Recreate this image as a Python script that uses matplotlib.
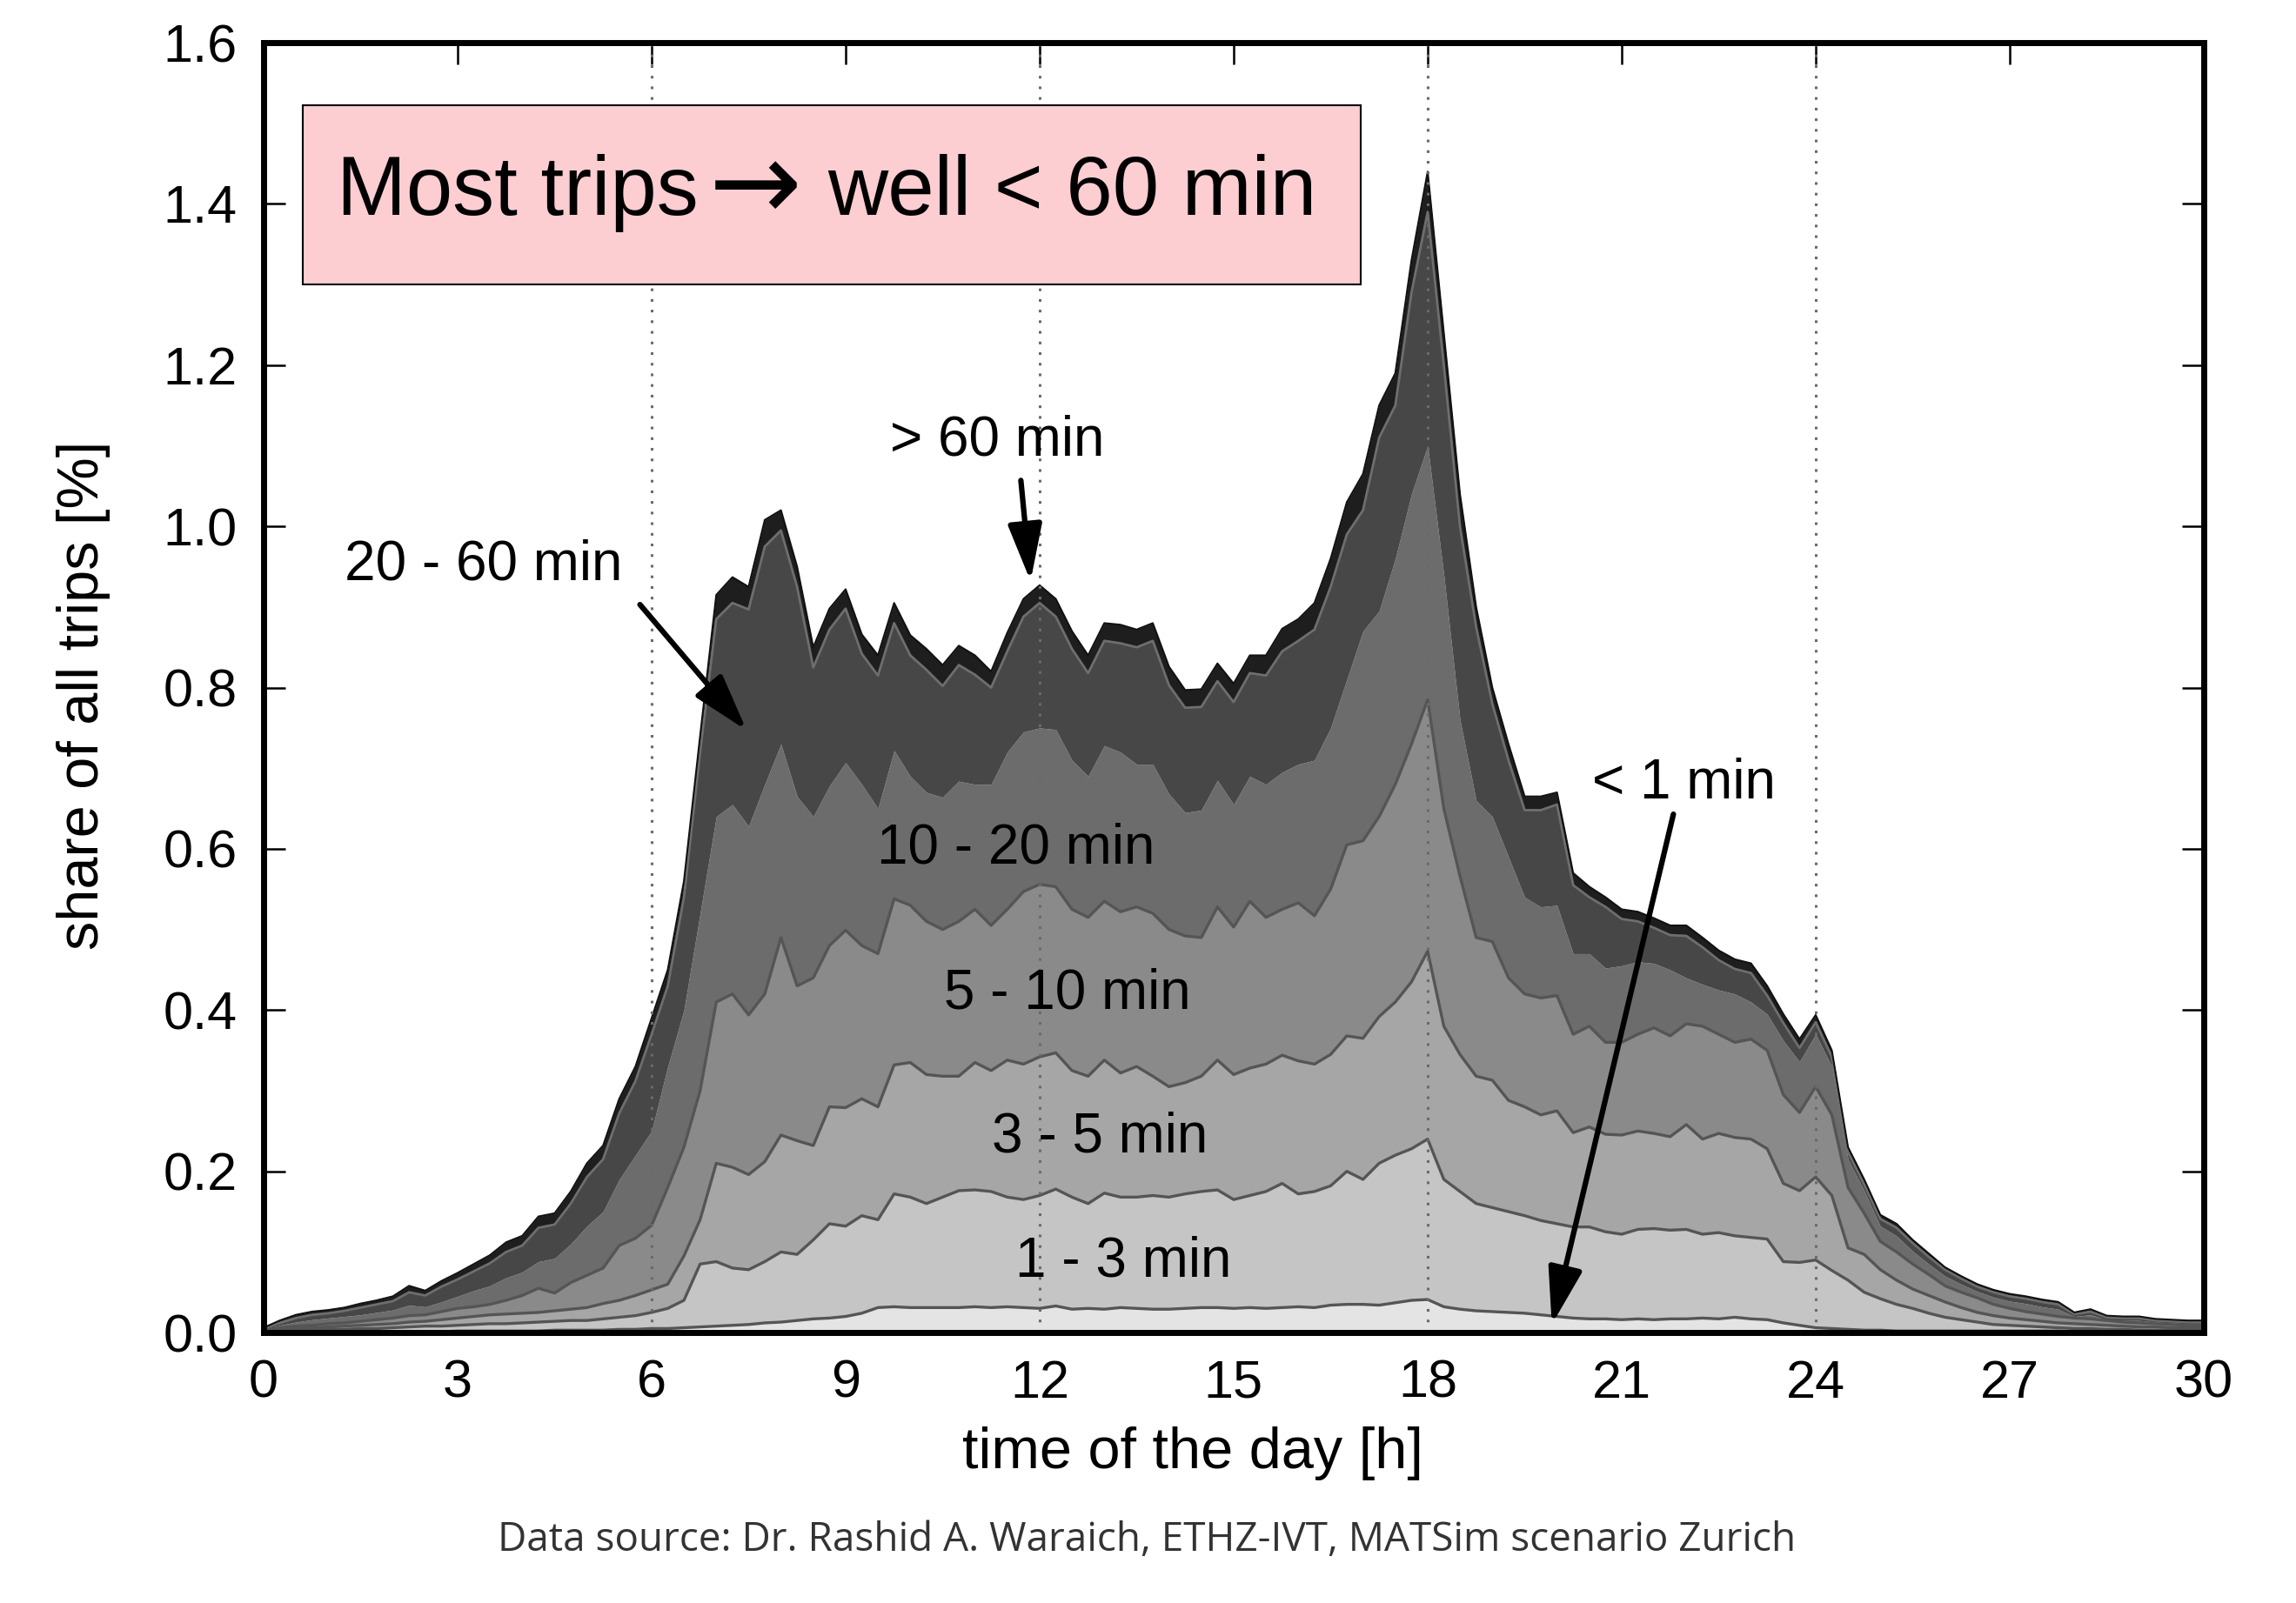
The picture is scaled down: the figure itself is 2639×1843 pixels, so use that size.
import numpy as np
from matplotlib import pyplot as plt
from matplotlib.patches import Rectangle

# time of day in hours, 15 min steps
hours = np.arange(0, 30.01, 0.25)

# cumulative share of all trips [%] at the upper edge of each duration class
top_lt1 = [0.000, 0.001, 0.001, 0.001, 0.001, 0.001, 0.001, 0.001, 0.001, 0.001, 0.001, 0.001,
           0.002, 0.002, 0.002, 0.002, 0.002, 0.002, 0.003, 0.003, 0.003, 0.003, 0.004, 0.004,
           0.005, 0.005, 0.006, 0.007, 0.008, 0.009, 0.010, 0.012, 0.013, 0.015, 0.017, 0.018,
           0.020, 0.024, 0.031, 0.032, 0.031, 0.031, 0.031, 0.031, 0.032, 0.031, 0.032, 0.031,
           0.030, 0.033, 0.029, 0.030, 0.029, 0.031, 0.030, 0.029, 0.029, 0.030, 0.031, 0.031,
           0.030, 0.031, 0.030, 0.031, 0.032, 0.031, 0.034, 0.035, 0.035, 0.034, 0.037, 0.040,
           0.041, 0.032, 0.029, 0.027, 0.026, 0.025, 0.024, 0.022, 0.020, 0.018, 0.017, 0.017,
           0.016, 0.017, 0.016, 0.017, 0.017, 0.018, 0.017, 0.019, 0.017, 0.016, 0.012, 0.009,
           0.006, 0.005, 0.004, 0.003, 0.003, 0.002, 0.002, 0.002, 0.002, 0.002, 0.002, 0.002,
           0.002, 0.002, 0.002, 0.002, 0.001, 0.001, 0.001, 0.001, 0.001, 0.001, 0.001, 0.001,
           0.001]
top_1_3 = [0.001, 0.002, 0.003, 0.003, 0.004, 0.004, 0.005, 0.005, 0.006, 0.007, 0.008, 0.008,
           0.009, 0.010, 0.011, 0.011, 0.012, 0.013, 0.014, 0.015, 0.015, 0.017, 0.019, 0.021,
           0.025, 0.030, 0.040, 0.085, 0.088, 0.080, 0.078, 0.088, 0.100, 0.097, 0.115, 0.135,
           0.132, 0.145, 0.140, 0.172, 0.168, 0.160, 0.168, 0.176, 0.177, 0.175, 0.168, 0.165,
           0.170, 0.178, 0.168, 0.160, 0.173, 0.168, 0.168, 0.170, 0.168, 0.172, 0.175, 0.177,
           0.165, 0.170, 0.175, 0.185, 0.172, 0.175, 0.182, 0.200, 0.190, 0.210, 0.220, 0.228,
           0.240, 0.190, 0.175, 0.160, 0.155, 0.150, 0.145, 0.139, 0.135, 0.131, 0.131, 0.125,
           0.122, 0.128, 0.129, 0.127, 0.128, 0.122, 0.124, 0.120, 0.118, 0.116, 0.088, 0.087,
           0.090, 0.077, 0.065, 0.050, 0.042, 0.035, 0.030, 0.024, 0.019, 0.016, 0.013, 0.010,
           0.009, 0.008, 0.007, 0.006, 0.005, 0.005, 0.004, 0.004, 0.003, 0.003, 0.003, 0.003,
           0.003]
top_3_5 = [0.002, 0.004, 0.005, 0.006, 0.007, 0.008, 0.009, 0.010, 0.011, 0.013, 0.014, 0.016,
           0.018, 0.020, 0.022, 0.023, 0.024, 0.025, 0.027, 0.029, 0.031, 0.036, 0.040, 0.046,
           0.053, 0.060, 0.095, 0.140, 0.210, 0.205, 0.196, 0.212, 0.245, 0.238, 0.232, 0.280,
           0.279, 0.290, 0.280, 0.332, 0.335, 0.320, 0.318, 0.318, 0.335, 0.325, 0.338, 0.333,
           0.342, 0.347, 0.325, 0.318, 0.338, 0.322, 0.330, 0.318, 0.305, 0.310, 0.318, 0.338,
           0.320, 0.328, 0.333, 0.344, 0.337, 0.333, 0.345, 0.368, 0.365, 0.392, 0.410, 0.435,
           0.473, 0.380, 0.345, 0.318, 0.313, 0.288, 0.280, 0.270, 0.275, 0.248, 0.255, 0.246,
           0.245, 0.250, 0.247, 0.243, 0.258, 0.240, 0.247, 0.242, 0.240, 0.228, 0.185, 0.176,
           0.193, 0.170, 0.105, 0.097, 0.078, 0.065, 0.054, 0.046, 0.038, 0.031, 0.025, 0.021,
           0.018, 0.016, 0.014, 0.012, 0.011, 0.010, 0.009, 0.008, 0.007, 0.007, 0.006, 0.006,
           0.006]
top_5_10 = [0.003, 0.006, 0.008, 0.009, 0.011, 0.012, 0.014, 0.016, 0.018, 0.021, 0.022, 0.026,
            0.030, 0.032, 0.035, 0.040, 0.046, 0.055, 0.049, 0.062, 0.071, 0.080, 0.108, 0.117,
            0.133, 0.180, 0.230, 0.300, 0.410, 0.420, 0.394, 0.420, 0.490, 0.430, 0.440, 0.480,
            0.499, 0.480, 0.470, 0.538, 0.530, 0.510, 0.500, 0.510, 0.525, 0.505, 0.525, 0.547,
            0.556, 0.553, 0.525, 0.515, 0.535, 0.522, 0.528, 0.520, 0.500, 0.492, 0.490, 0.528,
            0.503, 0.535, 0.515, 0.525, 0.533, 0.517, 0.550, 0.605, 0.610, 0.640, 0.680, 0.730,
            0.785, 0.650, 0.566, 0.490, 0.485, 0.440, 0.420, 0.415, 0.418, 0.370, 0.380, 0.360,
            0.360, 0.370, 0.378, 0.368, 0.383, 0.380, 0.370, 0.360, 0.364, 0.350, 0.295, 0.273,
            0.305, 0.270, 0.180, 0.148, 0.113, 0.100, 0.085, 0.072, 0.058, 0.050, 0.043, 0.035,
            0.030, 0.026, 0.023, 0.020, 0.018, 0.017, 0.015, 0.013, 0.012, 0.011, 0.010, 0.009,
            0.009]
top_10_20 = [0.004, 0.009, 0.013, 0.016, 0.018, 0.020, 0.022, 0.025, 0.028, 0.034, 0.032, 0.038,
             0.045, 0.052, 0.058, 0.068, 0.075, 0.088, 0.092, 0.110, 0.132, 0.150, 0.190, 0.220,
             0.250, 0.330, 0.400, 0.520, 0.640, 0.655, 0.628, 0.680, 0.730, 0.665, 0.640, 0.678,
             0.707, 0.680, 0.650, 0.722, 0.690, 0.670, 0.664, 0.684, 0.680, 0.680, 0.720, 0.745,
             0.750, 0.748, 0.710, 0.690, 0.728, 0.720, 0.705, 0.705, 0.668, 0.645, 0.648, 0.685,
             0.655, 0.690, 0.680, 0.695, 0.705, 0.710, 0.750, 0.810, 0.870, 0.895, 0.960, 1.040,
             1.100, 0.940, 0.760, 0.660, 0.640, 0.590, 0.540, 0.528, 0.530, 0.470, 0.470, 0.452,
             0.455, 0.460, 0.458, 0.450, 0.440, 0.432, 0.425, 0.420, 0.410, 0.395, 0.362, 0.336,
             0.370, 0.330, 0.215, 0.176, 0.132, 0.120, 0.101, 0.085, 0.070, 0.060, 0.051, 0.044,
             0.039, 0.036, 0.032, 0.029, 0.020, 0.022, 0.016, 0.015, 0.015, 0.013, 0.012, 0.011,
             0.011]
top_20_60 = [0.005, 0.012, 0.018, 0.022, 0.024, 0.027, 0.031, 0.035, 0.039, 0.050, 0.046, 0.057,
             0.066, 0.076, 0.086, 0.100, 0.108, 0.130, 0.134, 0.160, 0.193, 0.215, 0.272, 0.312,
             0.370, 0.430, 0.540, 0.720, 0.885, 0.905, 0.897, 0.975, 0.995, 0.925, 0.825, 0.872,
             0.898, 0.842, 0.815, 0.880, 0.840, 0.822, 0.802, 0.828, 0.816, 0.800, 0.845, 0.888,
             0.905, 0.888, 0.848, 0.818, 0.858, 0.855, 0.850, 0.858, 0.803, 0.775, 0.776, 0.808,
             0.782, 0.818, 0.815, 0.845, 0.858, 0.872, 0.925, 0.990, 1.020, 1.110, 1.150, 1.290,
             1.390, 1.200, 1.000, 0.875, 0.780, 0.710, 0.648, 0.648, 0.655, 0.555, 0.540, 0.528,
             0.513, 0.510, 0.502, 0.493, 0.492, 0.478, 0.462, 0.451, 0.446, 0.418, 0.384, 0.353,
             0.385, 0.342, 0.224, 0.184, 0.141, 0.130, 0.111, 0.094, 0.078, 0.067, 0.057, 0.050,
             0.045, 0.042, 0.038, 0.035, 0.023, 0.026, 0.019, 0.018, 0.018, 0.015, 0.014, 0.013,
             0.013]
top_all = [0.006, 0.015, 0.022, 0.026, 0.028, 0.031, 0.036, 0.040, 0.045, 0.058, 0.052, 0.064,
           0.074, 0.085, 0.096, 0.112, 0.120, 0.144, 0.148, 0.175, 0.210, 0.232, 0.290, 0.330,
           0.390, 0.450, 0.560, 0.740, 0.915, 0.937, 0.925, 1.008, 1.020, 0.950, 0.850, 0.898,
           0.922, 0.866, 0.840, 0.905, 0.865, 0.848, 0.828, 0.852, 0.840, 0.820, 0.868, 0.910,
           0.927, 0.910, 0.870, 0.840, 0.880, 0.878, 0.872, 0.880, 0.826, 0.797, 0.798, 0.830,
           0.805, 0.840, 0.840, 0.873, 0.885, 0.905, 0.960, 1.030, 1.065, 1.150, 1.190, 1.330,
           1.440, 1.240, 1.040, 0.900, 0.800, 0.730, 0.665, 0.665, 0.670, 0.570, 0.553, 0.540,
           0.525, 0.522, 0.514, 0.505, 0.505, 0.490, 0.474, 0.463, 0.458, 0.430, 0.395, 0.364,
           0.394, 0.350, 0.230, 0.190, 0.146, 0.135, 0.115, 0.098, 0.081, 0.070, 0.060, 0.053,
           0.048, 0.045, 0.041, 0.038, 0.025, 0.029, 0.021, 0.020, 0.020, 0.017, 0.016, 0.015,
           0.015]

tops = [top_lt1, top_1_3, top_3_5, top_5_10, top_10_20, top_20_60, top_all]
fills = ["#e4e4e4", "#c5c5c5", "#a6a6a6", "#8a8a8a", "#6c6c6c", "#474747", "#1e1e1e"]
edge_col = ["#555555", "#555555", "#555555", "#555555", None, "#6e6e6e", "#111111"]
edge_lw = [2.4, 2.4, 2.4, 2.4, 0, 2.0, 1.5]

labels = ["< 1 min", "1 - 3 min", "3 - 5 min", "5 - 10 min", "10 - 20 min", "20 - 60 min", "> 60 min"]

plt.rcParams["font.family"] = ["Liberation Sans", "DejaVu Sans"]

fig = plt.figure(figsize=(26.39, 18.43), dpi=100)
ax = fig.add_axes([0.1148, 0.1687, 0.845, 0.8047])

lower = np.zeros(len(hours))
for i in range(len(tops)):
    upper = np.array(tops[i])
    ax.fill_between(hours, lower, upper, color=fills[i], lw=0, zorder=2)
    lower = upper
for i in range(len(tops)):
    if edge_col[i] is not None:
        ax.plot(hours, tops[i], color=edge_col[i], lw=edge_lw[i], zorder=3)

for h in [6, 12, 18, 24]:
    ax.axvline(h, color="#6a6a6a", ls=(0, (1, 3)), lw=2.2, zorder=4)

ax.set_xlim(0, 30)
ax.set_ylim(0, 1.6)
ax.set_xticks(np.arange(0, 31, 3))
ax.set_yticks(np.arange(0, 1.61, 0.2))
ax.set_yticklabels(["%.1f" % v for v in np.arange(0, 1.61, 0.2)])
ax.tick_params(direction="in", length=18, width=1.8, labelsize=44, top=True, right=True, pad=22)
for s in ax.spines.values():
    s.set_linewidth(5)
    s.set_zorder(6)

ax.set_xlabel("time of the day [h]", fontsize=48, va="center")
ax.xaxis.set_label_coords(0.479, -0.094)
ax.set_ylabel("share of all trips [%]", fontsize=48, va="center")
ax.yaxis.set_label_coords(-0.093, 0.494)

# headline box
ax.add_patch(Rectangle((0.6, 1.30), 16.37, 0.222, facecolor="#fccdd1", edgecolor="black", lw=1.5, zorder=5))
ax.text(1.13, 1.413, "Most trips", fontsize=69, ha="left", va="center", zorder=6)
ax.text(7.6, 1.418, "\u2192", fontsize=92, family=["DejaVu Sans"], ha="center", va="center", zorder=6)
ax.text(8.72, 1.413, "well < 60 min", fontsize=69, ha="left", va="center", zorder=6)

arrow = dict(arrowstyle="-|>,head_length=2.0,head_width=0.6", color="black", lw=4.5, mutation_scale=20,
             shrinkA=0, shrinkB=0)
ax.text(11.34, 1.106, labels[6], fontsize=46, ha="center", va="center", zorder=7)
ax.annotate("", xy=(11.86, 0.932), xytext=(11.71, 1.057), arrowprops=arrow, zorder=7)
ax.text(3.4, 0.952, labels[5], fontsize=46, ha="center", va="center", zorder=7)
ax.annotate("", xy=(7.47, 0.747), xytext=(5.82, 0.903), arrowprops=arrow, zorder=7)
ax.text(11.64, 0.601, labels[4], fontsize=46, ha="center", va="center", zorder=7)
ax.text(12.43, 0.42, labels[3], fontsize=46, ha="center", va="center", zorder=7)
ax.text(12.93, 0.242, labels[2], fontsize=46, ha="center", va="center", zorder=7)
ax.text(13.29, 0.088, labels[1], fontsize=46, ha="center", va="center", zorder=7)
ax.text(21.96, 0.681, labels[0], fontsize=46, ha="center", va="center", zorder=7)
ax.annotate("", xy=(19.92, 0.01), xytext=(21.8, 0.643), arrowprops=arrow, zorder=7)

fig.text(0.4995, 0.039, "Data source: Dr. Rashid A. Waraich, ETHZ-IVT, MATSim scenario Zurich",
         fontsize=33, family=["Open Sans", "DejaVu Sans"], color="#333333", ha="center", va="center")

fig.savefig("out.png", dpi=100)
